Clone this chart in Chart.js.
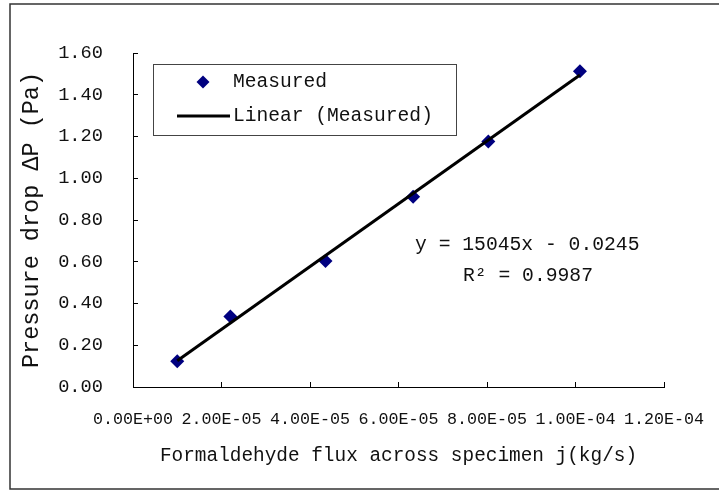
<!DOCTYPE html>
<html>
<head>
<meta charset="utf-8">
<script src="https://cdn.jsdelivr.net/npm/chart.js@4/dist/chart.umd.min.js"></script>
<style>
  html, body { margin: 0; padding: 0; background: #fff; }
  canvas { display: block; }
</style>
</head>
<body>
<canvas id="chart" width="719" height="491"></canvas>
<script>
// Data
const fluxValues = [1.0e-5, 2.2e-5, 4.35e-5, 6.33e-5, 8.03e-5, 1.01e-4];
const pressureValues = [0.123, 0.338, 0.603, 0.911, 1.176, 1.513];

// Trendline end points (as drawn)
const trendFlux = [1.0e-5, 1.01e-4];
const trendPressure = [0.126, 1.495];

// Tick labels
const xTickValues = [0, 2e-5, 4e-5, 6e-5, 8e-5, 1e-4, 1.2e-4];
const yTickValues = [0, 0.2, 0.4, 0.6, 0.8, 1.0, 1.2, 1.4, 1.6];

const xTitle = 'Formaldehyde flux across specimen j(kg/s)';
const yTitle = 'Pressure drop ΔP (Pa)';
const legendLabels = ['Measured', 'Linear (Measured)'];
const equationText = 'y = 15045x - 0.0245';
const r2Text = 'R² = 0.9987';

const FONT = "'Liberation Mono', monospace";
const NAVY = '#000080';

// format like 2.00E-05
function sci(v) {
    if (v === 0) return '0.00E+00';
    const exp = Math.floor(Math.log10(Math.abs(v)) + 1e-9);
    const mant = v / Math.pow(10, exp);
    const sign = exp < 0 ? '-' : '+';
    return mant.toFixed(2) + 'E' + sign + String(Math.abs(exp)).padStart(2, '0');
}

// Frame, legend box and equation
const decorPlugin = {
    id: 'decor',
    afterDraw(chart) {
        const ctx = chart.ctx;
        ctx.save();

        // outer frame
        ctx.strokeStyle = '#333';
        ctx.lineWidth = 1.5;
        ctx.strokeRect(10, 4, 720, 485);

        // legend box
        ctx.strokeStyle = '#444';
        ctx.lineWidth = 1;
        ctx.strokeRect(153.5, 64.5, 303, 71);

        ctx.fillStyle = NAVY;
        ctx.beginPath();
        ctx.moveTo(203, 75.5);
        ctx.lineTo(209.5, 82);
        ctx.lineTo(203, 88.5);
        ctx.lineTo(196.5, 82);
        ctx.closePath();
        ctx.fill();

        ctx.strokeStyle = '#000';
        ctx.lineWidth = 3;
        ctx.beginPath();
        ctx.moveTo(177, 116);
        ctx.lineTo(230, 116);
        ctx.stroke();

        ctx.fillStyle = '#111';
        ctx.font = '19.6px ' + FONT;
        ctx.textBaseline = 'middle';
        ctx.fillText(legendLabels[0], 233, 82);
        ctx.fillText(legendLabels[1], 233, 116);

        // regression text
        ctx.font = '19.7px ' + FONT;
        ctx.fillText(equationText, 415, 245);
        ctx.fillText(r2Text, 463, 276);

        ctx.restore();
    }
};

const ctx = document.getElementById('chart').getContext('2d');

new Chart(ctx, {
    type: 'scatter',
    data: {
        datasets: [
            {
                label: legendLabels[1],
                data: trendFlux.map((x, i) => ({ x: x, y: trendPressure[i] })),
                showLine: true,
                borderColor: '#000',
                borderWidth: 3,
                pointRadius: 0,
                order: 0
            },
            {
                label: legendLabels[0],
                data: fluxValues.map((x, i) => ({ x: x, y: pressureValues[i] })),
                pointStyle: 'rectRot',
                pointRadius: 7,
                backgroundColor: NAVY,
                borderColor: NAVY,
                borderWidth: 0,
                order: 1
            }
        ]
    },
    options: {
        responsive: false,
        animation: false,
        events: [],
        layout: { padding: { top: 53, right: 55, bottom: 0, left: 0 } },
        plugins: {
            legend: { display: false },
            tooltip: { enabled: false }
        },
        scales: {
            x: {
                type: 'linear',
                min: 0,
                max: 1.2e-4,
                afterBuildTicks: s => { s.ticks = xTickValues.map(v => ({ value: v })); },
                afterFit: s => { s.height = 104; s.paddingLeft = 0; s.paddingRight = 0; },
                ticks: {
                    callback: v => sci(v),
                    color: '#111',
                    font: { family: FONT, size: 16.7 },
                    padding: 28,
                    maxRotation: 0,
                    autoSkip: false
                },
                grid: { drawOnChartArea: false, tickLength: -5, color: '#000' },
                border: { color: '#000', width: 1 },
                title: {
                    display: true,
                    text: xTitle,
                    color: '#111',
                    font: { family: FONT, size: 19.4 },
                    padding: { top: 0, bottom: 24 }
                }
            },
            y: {
                min: 0,
                max: 1.6,
                afterBuildTicks: s => { s.ticks = yTickValues.map(v => ({ value: v })); },
                afterFit: s => { s.width = 133; s.paddingTop = 0; s.paddingBottom = 0; },
                ticks: {
                    callback: v => v.toFixed(2),
                    color: '#111',
                    font: { family: FONT, size: 18.7 },
                    padding: 35
                },
                grid: { drawOnChartArea: false, tickLength: -5, color: '#000' },
                border: { color: '#000', width: 1 },
                title: {
                    display: true,
                    text: yTitle,
                    color: '#111',
                    font: { family: FONT, size: 23.5 },
                    padding: { top: 18, bottom: 0 }
                }
            }
        }
    },
    plugins: [decorPlugin]
});
</script>
</body>
</html>
